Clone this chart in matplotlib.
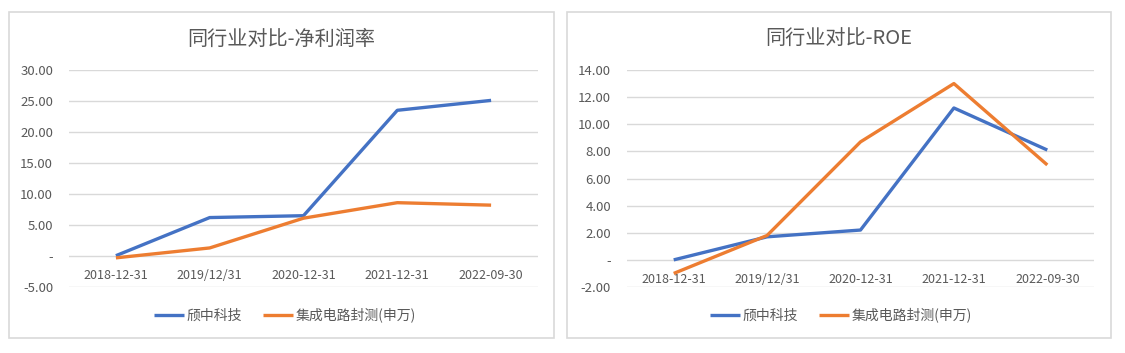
import matplotlib.pyplot as plt
from matplotlib.patches import Rectangle

plt.rcParams['font.family'] = ['Noto Sans CJK SC', 'DejaVu Sans']

categories = ['2018-12-31', '2019/12/31', '2020-12-31', '2021-12-31', '2022-09-30']
series_names = ['颀中科技', '集成电路封测(申万)']

# 净利润率
npm_company = [0.05, 6.2, 6.5, 23.5, 25.1]
npm_industry = [-0.3, 1.3, 6.1, 8.6, 8.2]

# ROE
roe_company = [0.0, 1.7, 2.2, 11.2, 8.1]
roe_industry = [-1.0, 1.8, 8.7, 13.0, 7.0]

blue = '#4472C4'
orange = '#ED7D31'
grid_c = '#D9D9D9'
text_c = '#595959'

W, H = 1125, 353
fig = plt.figure(figsize=(W / 100, H / 100), dpi=100)


def px_axes(x0, y0, x1, y1):
    # pixel box (top-left origin) -> figure fraction axes
    return fig.add_axes([x0 / W, 1 - y1 / H, (x1 - x0) / W, (y1 - y0) / H])


def fmt(v):
    return '-' if v == 0 else f'{v:.2f}'


def draw_panel(box, plot_box, title, s1, s2, yticks, leg_center):
    bx0, by0, bx1, by1 = box
    fig.patches.append(Rectangle((bx0 / W, 1 - by1 / H), (bx1 - bx0) / W, (by1 - by0) / H,
                                 transform=fig.transFigure, fill=False,
                                 edgecolor=grid_c, linewidth=1.2))
    ax = px_axes(*plot_box)
    x = list(range(len(categories)))
    l1, = ax.plot(x, s1, color=blue, linewidth=2.4, solid_capstyle='butt', label=series_names[0])
    l2, = ax.plot(x, s2, color=orange, linewidth=2.4, solid_capstyle='butt', label=series_names[1])
    ax.set_xlim(-0.5, len(categories) - 0.5)
    ax.set_ylim(yticks[0], yticks[-1])
    ax.set_yticks(yticks)
    ax.set_yticklabels([fmt(v) for v in yticks])
    ax.yaxis.grid(True, color=grid_c, linewidth=1)
    ax.set_axisbelow(True)
    ax.set_xticks(x)
    ax.set_xticklabels(categories)
    ax.spines['bottom'].set_position(('data', 0))
    for s in ['top', 'right', 'left', 'bottom']:
        ax.spines[s].set_visible(False)
    ax.tick_params(axis='x', length=0, pad=9.5, labelsize=9, labelcolor=text_c)
    ax.tick_params(axis='y', length=0, pad=11.5, labelsize=9.5, labelcolor=text_c)
    cx = (bx0 + bx1) / 2
    fig.text(cx / W, 1 - 39 / H, title, ha='center', va='center', fontsize=14.5, color=text_c)
    fig.legend(handles=[l1, l2], loc='center', bbox_to_anchor=(leg_center / W, 1 - 315 / H),
               ncol=2, frameon=False, fontsize=10, labelcolor=text_c,
               handlelength=2.15, handletextpad=0.2, columnspacing=1.5)


draw_panel((9, 12, 554, 338), (69, 70, 538, 287), '同行业对比-净利润率',
           npm_company, npm_industry, [-5, 0, 5, 10, 15, 20, 25, 30], 285)
draw_panel((567, 12, 1111, 338), (627, 70, 1094, 287), '同行业对比-ROE',
           roe_company, roe_industry, [-2, 0, 2, 4, 6, 8, 10, 12, 14], 841)

fig.savefig('out.png', dpi=100)
